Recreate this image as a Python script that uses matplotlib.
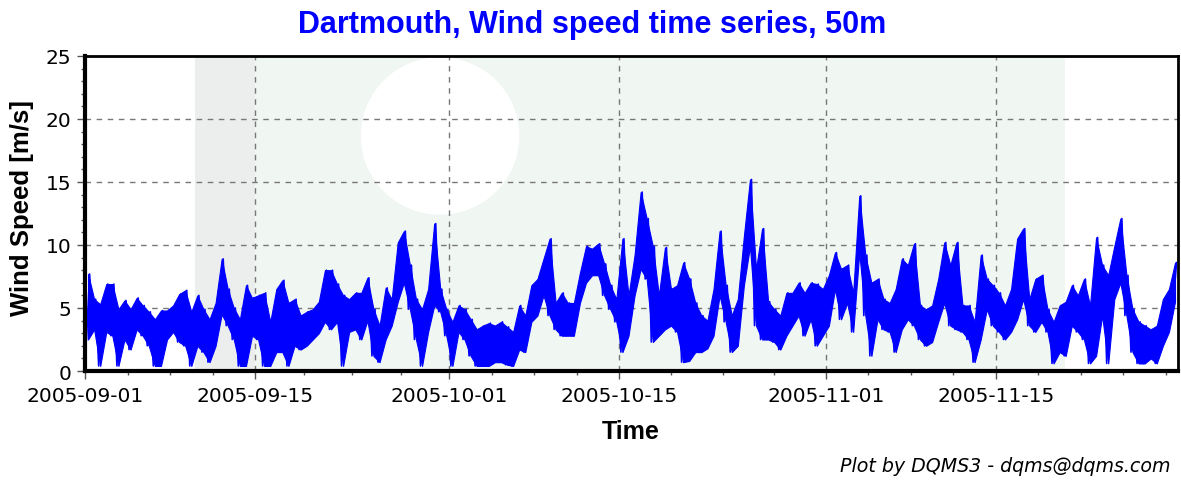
import matplotlib
matplotlib.use('Agg')
import matplotlib.pyplot as plt
import matplotlib.dates as mdates
from matplotlib.patches import Rectangle, Ellipse
import numpy as np
import pandas as pd

# half-day slots starting 2005-09-01 00:00, low / high wind speed
start = '2005-09-01'
slot_hours = 12
speed_hi = [
    7.7, 5.7, 5.3, 6.9, 6.9, 4.9, 5.6, 4.9, 5.8, 5.2, 4.7, 4.1, 4.8, 4.8, 5.2, 6.1, 6.4, 4.7, 6.0, 4.9,
    4.1, 5.4, 8.9, 6.5, 5.0, 4.1, 6.8, 5.8, 6.0, 6.2, 3.9, 6.5, 7.2, 5.4, 5.7, 4.4, 4.7, 4.9, 5.5, 8.0,
    8.0, 6.9, 6.0, 5.7, 6.2, 6.2, 7.4, 4.9, 3.6, 6.6, 5.7, 10.2, 11.1, 8.4, 5.7, 4.9, 6.5, 11.7, 6.5, 4.9,
    3.9, 5.2, 4.9, 4.1, 3.3, 3.6, 3.8, 3.6, 3.9, 3.5, 3.1, 5.2, 4.4, 6.8, 7.3, 8.9, 10.5, 5.4, 6.2, 5.4,
    5.4, 7.8, 9.9, 9.7, 10.1, 8.5, 6.8, 5.7, 10.5, 6.0, 9.2, 14.2, 12.1, 9.9, 6.0, 9.8, 6.5, 6.8, 8.6, 7.3,
    5.4, 4.4, 4.0, 6.5, 11.1, 6.8, 4.4, 5.7, 10.7, 15.2, 8.1, 11.3, 5.5, 4.9, 4.4, 6.2, 6.2, 7.0, 6.2, 7.0,
    6.9, 6.5, 7.6, 9.4, 8.1, 8.4, 6.2, 13.9, 9.2, 7.0, 7.3, 5.7, 5.4, 6.5, 8.9, 8.4, 10.1, 5.2, 4.9, 5.2,
    7.3, 10.2, 8.4, 10.2, 5.2, 5.2, 3.9, 9.2, 7.3, 6.8, 6.2, 5.2, 6.5, 10.5, 11.3, 5.7, 7.3, 7.6, 4.9, 3.9,
    5.2, 5.5, 6.8, 6.0, 7.3, 5.2, 10.6, 8.4, 7.6, 9.9, 12.1, 7.6, 4.9, 3.9, 3.6, 3.3, 3.6, 5.7, 6.5, 8.6,
]
speed_lo = [
    2.5, 3.3, 0.4, 3.1, 2.8, 0.4, 2.5, 1.7, 3.3, 2.8, 2.0, 0.4, 0.4, 2.5, 3.1, 2.3, 2.0, 0.4, 2.0, 1.5,
    0.7, 2.0, 4.5, 3.6, 2.5, 0.4, 0.4, 2.8, 2.5, 0.4, 0.4, 1.5, 1.5, 0.4, 2.0, 1.7, 2.0, 2.5, 3.0, 3.9,
    3.3, 3.9, 0.4, 3.1, 3.3, 2.5, 4.0, 1.2, 0.7, 2.5, 3.6, 5.5, 7.0, 4.9, 2.5, 0.4, 3.1, 5.2, 4.7, 2.8,
    0.4, 3.1, 2.5, 1.2, 0.4, 0.4, 0.4, 0.7, 0.7, 0.5, 0.4, 1.7, 1.5, 3.9, 4.4, 6.0, 4.4, 3.3, 2.8, 2.8,
    2.8, 5.4, 7.0, 7.6, 7.6, 6.0, 4.9, 3.9, 1.5, 2.8, 6.0, 8.1, 7.3, 2.3, 2.8, 3.3, 3.6, 3.1, 0.7, 0.8,
    1.5, 1.5, 1.8, 2.8, 6.0, 3.9, 1.5, 2.0, 6.8, 9.9, 3.6, 2.5, 2.5, 2.3, 1.7, 2.8, 3.6, 4.4, 2.8, 4.1,
    2.0, 2.8, 3.6, 6.5, 4.1, 5.4, 3.1, 9.4, 4.4, 1.2, 4.1, 3.3, 3.1, 1.5, 3.3, 4.1, 3.6, 2.5, 2.0, 2.3,
    3.9, 5.4, 3.6, 3.3, 3.1, 2.5, 0.7, 2.5, 4.9, 3.6, 3.1, 2.5, 3.1, 4.1, 5.7, 3.6, 3.1, 3.9, 3.1, 0.6,
    1.5, 1.2, 3.6, 3.1, 2.5, 0.6, 1.2, 4.4, 0.6, 5.7, 7.0, 4.4, 1.5, 0.6, 0.6, 1.0, 0.6, 2.0, 3.1, 5.5,
]
major_dates = ['2005-09-01', '2005-09-15', '2005-10-01', '2005-10-15', '2005-11-01', '2005-11-15']
x_end = '2005-11-30'
y_ticks = [0, 5, 10, 15, 20, 25]

# the hourly trace is too dense to resolve: draw its low/high envelope per slot,
# plus one trace through the readings for the spikes
t0 = pd.Timestamp(start)
slot_mid = [t0 + pd.Timedelta(hours=slot_hours * i + slot_hours / 2) for i in range(len(speed_hi))]
times, speeds = [], []
for i, (lo, hi) in enumerate(zip(speed_lo, speed_hi)):
    base = t0 + pd.Timedelta(hours=slot_hours * i)
    times += [base + pd.Timedelta(hours=3), base + pd.Timedelta(hours=9)]
    speeds += [lo, hi]

plt.rcParams['font.family'] = ['DejaVu Sans']
fig = plt.figure(figsize=(11.81, 4.81), dpi=100)
ax = fig.add_axes([0.072, 0.2266, 0.9255, 0.655])


def px(x, y):
    # pixel position of the reference picture -> axes fraction
    return ((x - 85) / 1093, (372 - y) / 315)


# faint logo watermark behind the data
ax.add_patch(Rectangle(px(195, 372), 0.796, 1, transform=ax.transAxes,
                       facecolor='#f0f6f2', edgecolor='none', zorder=0))
ax.add_patch(Rectangle(px(195, 372), 0.055, 1, transform=ax.transAxes,
                       facecolor='#eceeed', edgecolor='none', zorder=0))
ax.add_patch(Ellipse(px(440, 137), 0.145, 0.50, transform=ax.transAxes,
                     facecolor='white', edgecolor='none', zorder=0))

ax.fill_between(pd.to_datetime(slot_mid), speed_lo, speed_hi, color='#0000ff',
                linewidth=0.8, zorder=3)
ax.plot(pd.to_datetime(times), speeds, color='#0000ff', linewidth=1.2, zorder=3)

xmin, xmax = pd.Timestamp(start), pd.Timestamp(x_end)
ax.set_xlim(xmin, xmax)
ax.set_ylim(0, 25)

majors = [mdates.date2num(pd.Timestamp(d)) for d in major_dates]
minors = []
for a, b in zip(majors[:-1], majors[1:]):
    minors += [a + (b - a) * k / 4 for k in (1, 2, 3)]
step = (majors[-1] - majors[-2]) / 4
m = majors[-1] + step
while m < mdates.date2num(xmax):
    minors.append(m)
    m += step
ax.set_xticks(majors)
ax.set_xticklabels(major_dates)
ax.set_xticks(minors, minor=True)
ax.set_yticks(y_ticks)
ax.set_yticks(np.arange(0, 26, 1), minor=True)

ax.tick_params(axis='both', which='major', labelsize=14.5, length=6, width=1, color='#555555', direction='out')
ax.tick_params(axis='both', which='minor', length=3, width=1, color='#555555', direction='out')
ax.tick_params(axis='x', pad=5)
ax.tick_params(axis='y', pad=4)

for g in majors[1:]:
    ax.axvline(g, color='#777777', linewidth=1, linestyle=(0, (4, 4)), zorder=1)
for g in y_ticks[1:-1]:
    ax.axhline(g, color='#777777', linewidth=1, linestyle=(0, (4, 4)), zorder=1)

for side in ['top', 'right']:
    ax.spines[side].set_linewidth(2)
for side in ['left', 'bottom']:
    ax.spines[side].set_linewidth(3)
for s in ax.spines.values():
    s.set_zorder(4)

fig.text(631 / 1181, 1 - 432 / 481, 'Time', fontsize=18, fontweight='bold',
         family='Liberation Sans', ha='center', va='center')
fig.text(22 / 1181, 1 - 208 / 481, 'Wind Speed [m/s]', fontsize=18.5, fontweight='bold',
         family='Liberation Sans', rotation=90, ha='center', va='center')
fig.text(592 / 1181, 1 - 25 / 481, 'Dartmouth, Wind speed time series, 50m', color='#0000ff',
         fontsize=22, fontweight='bold', family='Liberation Sans', ha='center', va='center')
fig.text(1170 / 1181, 1 - 467 / 481, 'Plot by DQMS3 - dqms@dqms.com', fontsize=13.7, style='italic',
         ha='right', va='center')

fig.savefig('out.png', dpi=100)
